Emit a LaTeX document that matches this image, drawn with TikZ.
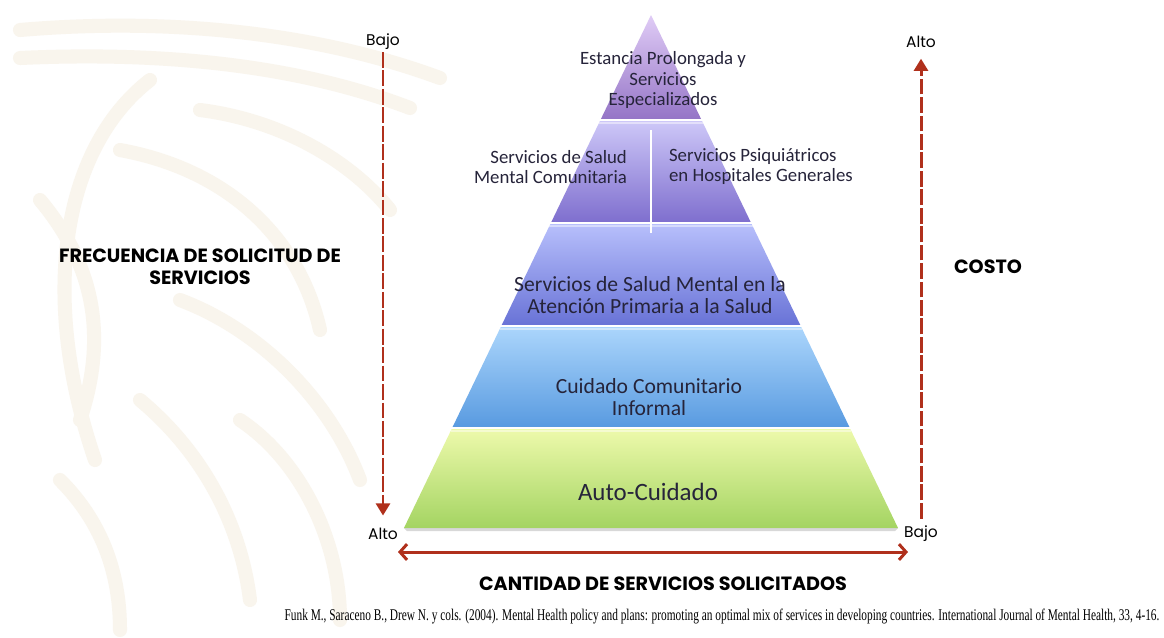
\documentclass[tikz,border=0pt]{standalone}
\usepackage{fontspec}
\setmainfont{Carlito}
\newfontfamily\headfont{Poppins}
\newfontfamily\citefont{Liberation Serif}
\usetikzlibrary{arrows.meta}
\definecolor{arrowred}{RGB}{176,48,28}
\definecolor{txtdark}{RGB}{38,36,58}
\definecolor{ornament}{RGB}{249,245,237}
\definecolor{lvlAt}{RGB}{224,204,246}
\definecolor{lvlAb}{RGB}{148,116,198}
\definecolor{lvlBt}{RGB}{206,200,248}
\definecolor{lvlBb}{RGB}{126,110,206}
\definecolor{lvlCt}{RGB}{184,192,252}
\definecolor{lvlCb}{RGB}{104,114,214}
\definecolor{lvlDt}{RGB}{172,214,252}
\definecolor{lvlDb}{RGB}{88,154,224}
\definecolor{lvlEt}{RGB}{238,250,172}
\definecolor{lvlEb}{RGB}{164,212,98}

\begin{document}
\begin{tikzpicture}[x=0.02cm, y=-0.02cm,
    every node/.style = {text=txtdark, inner sep=1pt},
    smalltxt/.style = {font=\fontsize{10.7}{11.4}\selectfont},
    bigtxt/.style = {font=\fontsize{12.3}{12.6}\selectfont, align=center},
    headtxt/.style = {font=\headfont\bfseries\fontsize{10.9}{12.5}\selectfont, text=black, align=center},
    endlabel/.style = {font=\headfont\fontsize{8.8}{10}\selectfont, text=black},
    dasharrow/.style = {draw=arrowred, line width=1.7pt, dash pattern=on 9pt off 1.5pt,
      -{Triangle[length=7pt, width=8pt]}},
    bothways/.style = {draw=arrowred, line width=1.7pt,
      {Straight Barb[length=4pt, width=9pt]}-{Straight Barb[length=4pt, width=9pt]}}]
  \fill[white] (0,0) rectangle (1164,637);
  \useasboundingbox (0,0) rectangle (1164,637);

  % watermark on the left
  \begin{scope}[draw=ornament, line width=8pt, line cap=round]
    \draw (20,30) .. controls (160,18) and (310,30) .. (440,78);
    \draw (20,58) .. controls (150,52) and (290,62) .. (410,108);
    \draw (150,80) .. controls (60,150) and (40,300) .. (95,460);
    \draw (120,150) .. controls (230,170) and (300,240) .. (320,330);
    \draw (40,200) .. controls (90,260) and (110,330) .. (80,420);
    \draw (180,300) .. controls (260,330) and (330,400) .. (360,480);
    \draw (140,400) .. controls (200,450) and (240,520) .. (250,600);
    \draw (60,480) .. controls (100,520) and (120,570) .. (120,630);
    \draw (240,420) .. controls (300,460) and (340,540) .. (340,620);
    \draw (200,110) .. controls (280,120) and (350,160) .. (390,210);
  \end{scope}

  % pyramid levels
  \foreach \yt/\yb/\lvl in {15/120/A, 120/223/B, 223/326/C, 326/428/D, 428/528/E}
    \shade[top color=lvl\lvl t, bottom color=lvl\lvl b]
      ({651-0.4815*(\yt-15)},\yt) -- ({651+0.4815*(\yt-15)},\yt)
      -- ({651+0.4815*(\yb-15)},\yb) -- ({651-0.4815*(\yb-15)},\yb) -- cycle;
  \foreach \y in {120,223,326,428} {
    \draw[white, line width=1.6pt] ({648-0.4815*(\y-15)},\y) -- ({654+0.4815*(\y-15)},\y);
    \draw[white, opacity=0.45, line width=1.2pt] ({651-0.4815*(\y-12)},\y+3) -- ({651+0.4815*(\y-12)},\y+3);
  }
  \fill[black!30, opacity=0.5] (404,528) -- (898,528) -- (895,531) -- (407,531) -- cycle;
  \draw[white, line width=1.3pt] (651,130) -- (651,233);

  \node[smalltxt, align=center] (prolongada) at (663,80) {Estancia Prolongada y\\Servicios\\Especializados};
  \node[smalltxt, align=right, anchor=east] (comunitaria) at (629,167) {Servicios de Salud\\Mental Comunitaria};
  \node[smalltxt, align=left, anchor=west] (psiquiatricos) at (667,167) {Servicios Psiquiátricos\\en Hospitales Generales};
  \node[bigtxt] (primaria) at (650,295) {Servicios de Salud Mental en la\\Atención Primaria a la Salud};
  \node[bigtxt] (informal) at (649,397) {Cuidado Comunitario\\Informal};
  \node[bigtxt, font=\fontsize{14.2}{16}\selectfont] (autocuidado) at (648,492) {Auto-Cuidado};

  % scales
  \node[endlabel] (bajoL) at (383,42) {Bajo};
  \node[endlabel] (altoL) at (383,534) {Alto};
  \node[endlabel] (altoR) at (921,42) {Alto};
  \node[endlabel] (bajoR) at (921,534) {Bajo};
  \draw[dasharrow, shorten >=6pt] (bajoL) -- (altoL);
  \draw[dasharrow, shorten <=3pt, shorten >=5pt] (bajoR) -- (altoR);
  \coordinate (cantL) at (398,552);
  \coordinate (cantR) at (908,552);
  \draw[bothways] (cantL) -- (cantR);

  \node[headtxt] (frecuencia) at (200,267) {FRECUENCIA DE SOLICITUD DE\\SERVICIOS};
  \node[headtxt] (costo) at (988,267) {COSTO};
  \node[headtxt] (cantidad) at (663,584) {CANTIDAD DE SERVICIOS SOLICITADOS};

  \node[inner sep=0pt, text=black] (cita) at (722,617) {\resizebox{17.5cm}{0.23cm}{\citefont Funk M., Saraceno B., Drew N. y cols. (2004). Mental Health policy and plans: promoting an optimal mix of services in developing countries. International Journal of Mental Health, 33, 4-16.}};
\end{tikzpicture}
\end{document}
